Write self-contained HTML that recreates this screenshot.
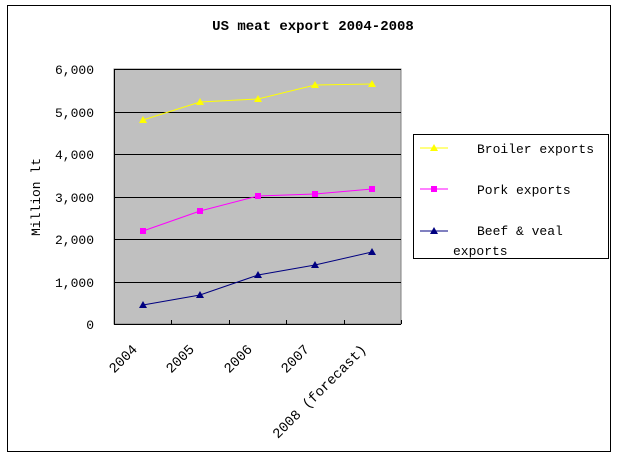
<!DOCTYPE html>
<html><head><meta charset="utf-8"><style>html,body{margin:0;padding:0;background:#fff}svg{display:block}</style></head>
<body>
<svg width="617" height="460" xmlns="http://www.w3.org/2000/svg" font-family="Liberation Mono, monospace" font-size="13">
<rect x="0" y="0" width="617" height="460" fill="#fff"/>
<rect x="7.5" y="5.5" width="603" height="446" fill="none" stroke="#000"/>
<text x="313" y="30" text-anchor="middle" font-weight="bold" font-size="14">US meat export 2004-2008</text>
<rect x="114" y="69" width="287" height="255" fill="#c0c0c0" stroke="#808080"/>
<g stroke="#000" stroke-width="1">
<line x1="114" y1="69.5" x2="401" y2="69.5"/>
<line x1="114" y1="112.5" x2="401" y2="112.5"/>
<line x1="114" y1="154.5" x2="401" y2="154.5"/>
<line x1="114" y1="197.5" x2="401" y2="197.5"/>
<line x1="114" y1="239.5" x2="401" y2="239.5"/>
<line x1="114" y1="282.5" x2="401" y2="282.5"/>
<line x1="114" y1="324.5" x2="401" y2="324.5"/>
<line x1="114.5" y1="69" x2="114.5" y2="324"/>
<line x1="171.5" y1="324" x2="171.5" y2="320"/>
<line x1="229.5" y1="324" x2="229.5" y2="320"/>
<line x1="286.5" y1="324" x2="286.5" y2="320"/>
<line x1="344.5" y1="324" x2="344.5" y2="320"/>
<line x1="401.5" y1="324" x2="401.5" y2="320"/>
</g>
<g text-anchor="end">
<text x="94" y="74">6,000</text>
<text x="94" y="117">5,000</text>
<text x="94" y="159">4,000</text>
<text x="94" y="202">3,000</text>
<text x="94" y="244">2,000</text>
<text x="94" y="287">1,000</text>
<text x="94" y="329">0</text>
</g>
<text transform="translate(40,197) rotate(-90)" text-anchor="middle">Million lt</text>
<g text-anchor="end" font-size="14">
<text transform="translate(138,350) rotate(-45)">2004</text>
<text transform="translate(195,350) rotate(-45)">2005</text>
<text transform="translate(253,350) rotate(-45)">2006</text>
<text transform="translate(310,350) rotate(-45)">2007</text>
<text transform="translate(367,350) rotate(-45)">2008 (forecast)</text>
</g>
<polyline points="143,120 200,102 258,99 315,85 372,84" fill="none" stroke="#ffff00"/>
<g fill="#ffff00">
<path d="M143,116 l4,7 h-8z"/><path d="M200,98 l4,7 h-8z"/><path d="M258,95 l4,7 h-8z"/><path d="M315,81 l4,7 h-8z"/><path d="M372,80 l4,7 h-8z"/>
</g>
<polyline points="143,231 200,211 258,196 315,194 372,189" fill="none" stroke="#ff00ff"/>
<g fill="#ff00ff">
<rect x="140" y="228" width="6" height="6"/><rect x="197" y="208" width="6" height="6"/><rect x="255" y="193" width="6" height="6"/><rect x="312" y="191" width="6" height="6"/><rect x="369" y="186" width="6" height="6"/>
</g>
<polyline points="143,305 200,295 258,275 315,265 372,252" fill="none" stroke="#000080"/>
<g fill="#000080">
<path d="M143,301 l4,7 h-8z"/><path d="M200,291 l4,7 h-8z"/><path d="M258,271 l4,7 h-8z"/><path d="M315,261 l4,7 h-8z"/><path d="M372,248 l4,7 h-8z"/>
</g>
<rect x="413.5" y="134.5" width="195" height="124" fill="#fff" stroke="#000"/>
<line x1="420" y1="148" x2="448" y2="148" stroke="#ffff00"/><path d="M434,144 l4,7 h-8z" fill="#ffff00"/>
<line x1="420" y1="189" x2="448" y2="189" stroke="#ff00ff"/><rect x="431" y="186" width="6" height="6" fill="#ff00ff"/>
<line x1="420" y1="231" x2="448" y2="231" stroke="#000080"/><path d="M434,227 l4,7 h-8z" fill="#000080"/>
<text x="477" y="153">Broiler exports</text>
<text x="477" y="194">Pork exports</text>
<text x="477" y="235">Beef &amp; veal</text>
<text x="453" y="255">exports</text>
</svg>
</body></html>
